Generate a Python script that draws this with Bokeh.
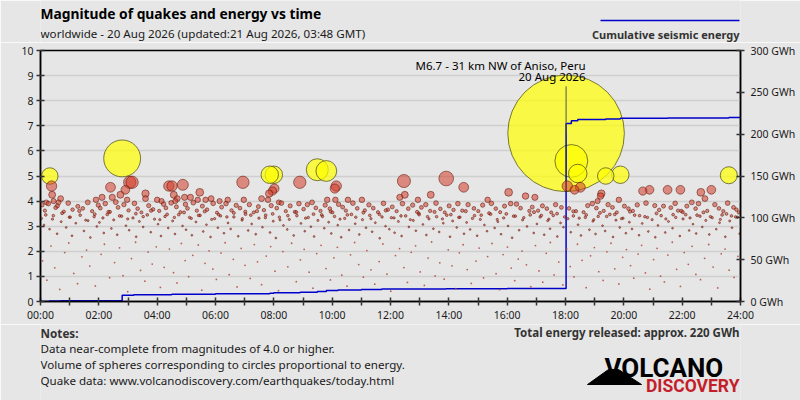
import numpy as np
from bokeh.plotting import figure
from bokeh.layouts import column
from bokeh.models import Range1d, LinearAxis, FixedTicker, Label, ColumnDataSource
from bokeh.core.properties import value
from bokeh.embed import file_html
from bokeh.resources import INLINE

# ------------------------------------------------------------------ data
# quakes of magnitude >= 5 (time in hours of 20 Aug 2026 GMT, magnitude)
big_t = [0.32, 2.80, 7.86, 8.00, 9.49, 9.80, 18.02, 18.20, 18.42, 19.38, 19.88, 23.60]
big_m = [5.0, 5.7, 5.05, 5.05, 5.25, 5.2, 6.7, 5.6, 5.1, 5.0, 5.05, 5.03]

# notable quakes ~M4-4.9
mod_t = [0.38, 0.40, 0.69, 0.20, 0.45, 0.62, 1.90, 2.11, 2.40, 2.46, 2.74, 2.91, 2.97, 3.06, 3.14,
         3.60, 3.60, 4.00, 4.15, 4.40, 4.51, 4.57, 4.62, 4.69, 4.88, 4.94, 5.14, 5.39, 5.46,
         5.66, 5.85, 6.14, 6.42, 6.94, 6.97, 7.58, 7.80, 7.84, 7.95, 8.02, 8.17, 8.89, 9.83,
         10.09, 10.11, 10.14, 10.54, 11.02, 12.32, 12.46, 12.49, 12.94, 13.38, 13.91, 14.51,
         15.33, 16.05, 16.63, 16.95, 18.06, 18.31, 18.51, 19.10, 19.20, 19.23, 19.83, 20.65,
         20.88, 21.50, 21.94, 22.33, 22.64, 22.78, 23.00]
mod_m = [4.6, 4.25, 4.1, 3.95, 4.0, 3.95, 4.05, 4.15, 4.55, 4.15, 4.25, 4.45, 4.05, 4.75, 4.75,
         4.3, 4.1, 4.05, 4.0, 4.6, 4.6, 4.25, 4.0, 4.1, 4.65, 4.15, 4.15, 4.05, 4.35,
         4.05, 4.1, 4.0, 4.05, 4.75, 4.05, 4.1, 4.05, 4.3, 4.4, 4.5, 3.95, 4.75, 4.05,
         4.5, 4.05, 4.6, 4.05, 4.05, 4.15, 4.8, 4.25, 4.05, 4.25, 4.9, 4.55,
         4.05, 4.35, 4.2, 4.15, 4.6, 4.45, 4.55, 4.0, 4.2, 4.3, 4.05, 4.4,
         4.45, 4.45, 4.45, 3.95, 4.35, 4.1, 4.45]

# band of ~M3.5-4
mid_t = [0.05, 0.15, 0.27, 0.52, 0.58, 0.80, 0.95, 1.10, 1.28, 1.45,
         1.62, 1.77, 1.98, 2.05, 2.22, 2.33, 2.58, 2.66, 2.86, 3.02,
         3.22, 3.33, 3.46, 3.71, 3.86, 4.07, 4.22, 4.30, 4.48, 4.66,
         4.80, 4.97, 5.04, 5.24, 5.36, 5.55, 5.71, 5.92, 6.05, 6.21,
         6.36, 6.55, 6.71, 6.84, 7.02, 7.16, 7.31, 7.47, 7.66, 7.91,
         8.10, 8.26, 8.41, 8.56, 8.72, 8.86, 9.02, 9.15, 9.31, 9.44,
         9.60, 9.76, 9.92, 10.01, 10.22, 10.36, 10.47, 10.71, 10.86, 11.12,
         11.26, 11.41, 11.57, 11.76, 11.91, 12.06, 12.21, 12.41, 12.61, 12.76,
         12.91, 13.06, 13.21, 13.36, 13.56, 13.71, 13.86, 14.01, 14.16, 14.31,
         14.46, 14.66, 14.86, 15.01, 15.16, 15.46, 15.61, 15.76, 15.91, 16.12,
         16.32, 16.46, 16.76, 16.86, 17.06, 17.21, 17.36, 17.51, 17.66, 17.86,
         18.12, 18.36, 18.62, 18.76, 18.92, 19.06, 19.31, 19.46, 19.61, 19.76,
         20.02, 20.16, 20.31, 20.46, 20.76, 21.06, 21.21, 21.36, 21.61, 21.76,
         21.86, 22.02, 22.16, 22.46, 22.56, 22.86, 23.12, 23.26, 23.41, 23.56,
         23.76, 23.86, 23.94]
mid_m = [3.85, 3.62, 3.90, 3.74, 3.81, 3.58, 3.92, 3.66, 3.79, 3.71,
         3.95, 3.60, 3.84, 3.72, 3.90, 3.57, 3.96, 3.75, 3.86, 3.63,
         3.91, 3.70, 3.55, 3.82, 3.67, 3.61, 3.88, 3.73, 3.93, 3.77,
         3.56, 3.87, 3.71, 3.94, 3.62, 3.80, 3.66, 3.91, 3.54, 3.76,
         3.90, 3.63, 3.83, 3.72, 3.58, 3.86, 3.55, 3.78, 3.64, 3.82,
         3.72, 3.92, 3.60, 3.81, 3.57, 3.90, 3.68, 3.86, 3.95, 3.73,
         3.61, 3.84, 3.70, 3.55, 3.87, 3.76, 3.62, 3.92, 3.71, 3.63,
         3.85, 3.72, 3.56, 3.91, 3.66, 3.77, 3.60, 3.90, 3.70, 3.84,
         3.57, 3.75, 3.86, 3.61, 3.92, 3.69, 3.55, 3.81, 3.65, 3.90,
         3.62, 3.86, 3.71, 3.60, 3.84, 3.91, 3.70, 3.56, 3.80, 3.90,
         3.88, 3.72, 3.61, 3.76, 3.62, 3.81, 3.70, 3.55, 3.86, 3.75,
         3.71, 3.60, 3.56, 3.82, 3.90, 3.72, 3.61, 3.86, 3.75, 3.55,
         3.80, 3.70, 3.61, 3.85, 3.92, 3.82, 3.65, 3.80, 3.74, 3.91,
         3.62, 3.56, 3.80, 3.70, 3.90, 3.61, 3.86, 3.71, 3.60, 3.92,
         3.75, 3.66, 3.55]

# band of ~M3.2-3.6
mid2_t = [0.18, 0.41, 0.74, 1.02, 1.33, 1.55, 1.86, 2.14, 2.38, 2.71,
          2.99, 3.27, 3.52, 3.79, 4.09, 4.34, 4.59, 4.92, 5.17, 5.42,
          5.63, 5.87, 6.11, 6.39, 6.63, 6.92, 7.21, 7.42, 7.71, 7.96,
          8.21, 8.48, 8.77, 9.09, 9.36, 9.67, 9.95, 10.27, 10.52, 10.81,
          11.07, 11.33, 11.62, 11.84, 12.12, 12.36, 12.68, 12.97, 13.27, 13.51,
          13.78, 14.07, 14.34, 14.58, 14.81, 15.11, 15.38, 15.66, 15.97, 16.22,
          16.57, 16.92, 17.17, 17.43, 17.71, 17.97, 18.27, 18.47, 18.71, 18.97,
          19.18, 19.41, 19.69, 19.92, 20.21, 20.54, 20.81, 21.12, 21.44, 21.69,
          21.97, 22.27, 22.51, 22.73, 22.97, 23.31, 23.52, 23.69, 23.89]
mid2_m = [3.45, 3.28, 3.52, 3.36, 3.61, 3.24, 3.48, 3.33, 3.57, 3.41,
          3.29, 3.50, 3.38, 3.62, 3.26, 3.47, 3.35, 3.55, 3.31, 3.43,
          3.59, 3.27, 3.46, 3.37, 3.53, 3.30, 3.44, 3.60, 3.34, 3.49,
          3.25, 3.42, 3.56, 3.32, 3.48, 3.39, 3.58, 3.28, 3.45, 3.36,
          3.54, 3.30, 3.47, 3.63, 3.33, 3.41, 3.26, 3.51, 3.38, 3.57,
          3.29, 3.46, 3.35, 3.60, 3.31, 3.44, 3.52, 3.27, 3.49, 3.40,
          3.34, 3.56, 3.43, 3.28, 3.50, 3.37, 3.59, 3.32, 3.45, 3.26,
          3.53, 3.39, 3.47, 3.30, 3.58, 3.42, 3.35, 3.51, 3.29, 3.46,
          3.61, 3.33, 3.44, 3.55, 3.38, 3.27, 3.49, 3.41, 3.36]

# band of ~M2.5-3.5
small_t = [0.03, 0.12, 0.31, 0.44, 0.57, 0.71, 0.88, 0.99, 1.08, 1.21,
           1.36, 1.49, 1.63, 1.71, 1.84, 1.93, 2.02, 2.17, 2.29, 2.43,
           2.51, 2.63, 2.78, 2.93, 3.04, 3.17, 3.28, 3.39, 3.52, 3.66,
           3.78, 3.91, 4.03, 4.13, 4.27, 4.38, 4.53, 4.61, 4.74, 4.87,
           4.99, 5.11, 5.19, 5.33, 5.47, 5.58, 5.69, 5.83, 5.97, 6.08,
           6.17, 6.29, 6.43, 6.52, 6.63, 6.78, 6.91, 7.03, 7.12, 7.24,
           7.38, 7.49, 7.61, 7.72, 7.87, 7.98, 8.07, 8.19, 8.33, 8.46,
           8.53, 8.68, 8.79, 8.93, 9.06, 9.18, 9.27, 9.38, 9.51, 9.64,
           9.73, 9.88, 9.97, 10.08, 10.19, 10.31, 10.43, 10.58, 10.66, 10.79,
           10.93, 11.04, 11.16, 11.29, 11.37, 11.48, 11.63, 11.71, 11.83, 11.96,
           12.03, 12.14, 12.27, 12.38, 12.52, 12.63, 12.78, 12.87, 12.98, 13.11,
           13.23, 13.32, 13.47, 13.58, 13.67, 13.81, 13.93, 14.04, 14.13, 14.27,
           14.38, 14.52, 14.61, 14.73, 14.88, 14.97, 15.08, 15.22, 15.31, 15.43,
           15.57, 15.68, 15.79, 15.88, 16.03, 16.17, 16.28, 16.41, 16.53, 16.68,
           16.79, 16.91, 17.02, 17.13, 17.27, 17.39, 17.47, 17.58, 17.72, 17.83,
           17.93, 18.08, 18.18, 18.27, 18.43, 18.53, 18.68, 18.82, 18.94, 19.03,
           19.12, 19.27, 19.36, 19.52, 19.63, 19.73, 19.86, 19.97, 20.07, 20.19,
           20.28, 20.37, 20.52, 20.63, 20.72, 20.84, 20.97, 21.08, 21.17, 21.28,
           21.42, 21.53, 21.67, 21.78, 21.92, 22.03, 22.12, 22.24, 22.37, 22.48,
           22.61, 22.69, 22.81, 22.93, 23.03, 23.17, 23.28, 23.37, 23.48, 23.63,
           23.71, 23.83, 23.97]
small_m = [3.31, 3.05, 2.88, 3.42, 2.70, 3.18, 2.95, 3.36, 2.62, 3.12,
           3.44, 2.81, 3.22, 2.55, 3.38, 2.99, 3.15, 2.73, 3.47, 2.91,
           3.25, 2.66, 3.40, 3.02, 2.84, 3.33, 2.58, 3.19, 2.97, 3.45,
           2.76, 3.28, 3.08, 2.61, 3.39, 2.93, 3.21, 2.69, 3.46, 3.01,
           2.86, 3.35, 2.64, 3.17, 3.43, 2.79, 3.06, 2.57, 3.30, 2.94,
           3.41, 2.72, 3.13, 2.89, 3.37, 2.60, 3.24, 3.48, 2.83, 3.09,
           2.68, 3.32, 2.96, 3.44, 2.75, 3.20, 2.53, 3.36, 3.03, 2.87,
           3.27, 2.63, 3.42, 3.11, 2.80, 3.35, 2.98, 2.59, 3.23, 3.45,
           2.92, 3.16, 2.71, 3.39, 3.04, 2.56, 3.31, 2.85, 3.47, 3.10,
           2.67, 3.26, 2.94, 3.43, 2.78, 3.14, 2.52, 3.37, 3.00, 2.88,
           3.34, 2.74, 3.19, 2.61, 3.41, 2.97, 3.23, 2.82, 3.46, 3.07,
           2.65, 3.29, 2.90, 3.38, 2.77, 3.12, 3.44, 2.58, 3.21, 2.95,
           3.36, 2.70, 3.15, 2.87, 3.42, 2.62, 3.27, 3.05, 2.80, 3.48,
           2.93, 3.18, 2.68, 3.33, 3.01, 2.54, 3.40, 2.84, 3.25, 2.99,
           3.45, 2.73, 3.09, 3.37, 2.66, 3.22, 2.90, 3.43, 2.59, 3.13,
           2.96, 3.30, 2.76, 3.41, 3.06, 2.63, 3.35, 2.86, 3.20, 2.69,
           3.39, 3.02, 2.81, 3.47, 2.57, 3.24, 2.95, 3.32, 2.72, 3.16,
           2.89, 3.44, 2.64, 3.11, 3.38, 2.79, 3.26, 2.56, 3.03, 3.42,
           2.75, 3.19, 2.92, 3.35, 2.61, 3.29, 3.46, 2.83, 3.08, 2.71,
           3.40, 2.97, 3.23, 2.67, 3.34, 2.88, 3.14, 3.45, 2.58, 3.21,
           2.94, 3.37, 2.70]

# faint small quakes below ~M2.4
tiny_t = [0.07, 0.22, 0.36, 0.49, 0.66, 0.83, 0.97, 1.14, 1.27, 1.42,
          1.58, 1.69, 1.88, 2.08, 2.19, 2.37, 2.54, 2.71, 2.83, 2.99,
          3.12, 3.26, 3.43, 3.58, 3.69, 3.83, 3.97, 4.11, 4.24, 4.42,
          4.56, 4.68, 4.83, 4.96, 5.08, 5.22, 5.41, 5.53, 5.64, 5.78,
          5.91, 6.03, 6.19, 6.33, 6.47, 6.61, 6.74, 6.88, 7.01, 7.19,
          7.33, 7.44, 7.58, 7.74, 7.89, 8.04, 8.16, 8.31, 8.48, 8.61,
          8.77, 8.91, 9.04, 9.21, 9.34, 9.47, 9.62, 9.79, 9.94, 10.06,
          10.18, 10.33, 10.51, 10.63, 10.77, 10.91, 11.07, 11.19, 11.33, 11.46,
          11.61, 11.74, 11.88, 12.01, 12.17, 12.31, 12.46, 12.58, 12.71, 12.86,
          13.02, 13.16, 13.29, 13.41, 13.53, 13.69, 13.84, 13.98, 14.11, 14.24,
          14.36, 14.49, 14.63, 14.77, 14.93, 15.04, 15.19, 15.33, 15.48, 15.62,
          15.74, 15.86, 16.01, 16.14, 16.26, 16.38, 16.51, 16.66, 16.81, 16.97,
          17.09, 17.22, 17.34, 17.48, 17.61, 17.77, 17.91, 18.04, 18.16, 18.29,
          18.41, 18.57, 18.71, 18.86, 18.99, 19.14, 19.29, 19.42, 19.56, 19.69,
          19.83, 19.96, 20.09, 20.23, 20.34, 20.49, 20.61, 20.74, 20.89, 21.02,
          21.14, 21.26, 21.39, 21.51, 21.66, 21.81, 21.94, 22.07, 22.21, 22.34,
          22.47, 22.63, 22.77, 22.91, 23.06, 23.22, 23.34, 23.47, 23.61, 23.78,
          23.91]
tiny_m = [1.62, 0.85, 2.21, 1.34, 0.48, 1.95, 2.33, 1.12, 0.71, 1.78,
          2.05, 1.41, 0.62, 1.88, 2.28, 0.95, 1.55, 2.14, 1.03, 0.39,
          1.71, 2.36, 1.24, 0.81, 1.97, 1.49, 2.18, 0.56, 1.36, 2.09,
          1.15, 0.74, 2.31, 1.63, 0.99, 1.84, 2.25, 0.45, 1.52, 2.02,
          1.29, 0.88, 1.93, 2.34, 1.07, 1.68, 0.58, 2.12, 1.44, 0.92,
          2.27, 1.58, 0.67, 1.81, 2.19, 1.21, 0.43, 1.99, 1.38, 2.32,
          0.79, 1.66, 2.08, 1.17, 0.53, 1.91, 2.24, 1.31, 0.86, 1.74,
          2.16, 1.05, 0.61, 1.86, 2.35, 1.47, 0.97, 2.03, 1.26, 0.69,
          1.59, 2.29, 1.09, 0.41, 1.83, 2.11, 1.35, 0.76, 1.96, 2.22,
          1.18, 0.64, 1.73, 2.37, 1.02, 1.54, 0.89, 2.06, 1.42, 0.51,
          1.94, 2.26, 1.27, 0.72, 1.61, 2.13, 0.94, 1.79, 2.31, 1.11,
          0.47, 1.87, 2.17, 1.33, 0.83, 1.69, 2.01, 1.46, 0.59, 2.23,
          1.22, 0.77, 1.92, 2.35, 1.06, 1.57, 0.66, 2.10, 1.39, 0.98,
          2.28, 1.64, 0.55, 1.82, 2.15, 1.19, 0.84, 1.98, 2.32, 1.30,
          0.70, 1.76, 2.07, 1.43, 0.93, 1.89, 2.24, 1.14, 0.49, 1.67,
          2.12, 1.01, 0.78, 1.85, 2.36, 1.28, 0.60, 1.95, 1.48, 2.20,
          1.08, 0.87, 1.72, 2.27, 1.37, 0.54, 1.90, 2.09, 1.25, 0.96,
          1.80]

# cumulative seismic energy (hours, GWh)
energy_t = [0.0, 0.3, 0.7, 2.8, 3.2, 4.5, 6.0, 7.86, 8.0, 8.9, 9.49, 9.8, 10.2, 11.0,
            11.7, 13.9, 16.0, 18.02, 18.2, 18.42, 19.38, 19.88, 21.5, 23.6, 24.0]
energy_gwh = [0.0, 0.5, 1.0, 7.5, 8.0, 8.6, 9.2, 9.8, 10.6, 11.0, 12.0, 13.0, 13.6, 14.3,
              14.9, 15.3, 15.6, 212.7, 216.0, 217.4, 218.2, 218.9, 219.3, 220.0, 220.2]

hour_ticks = [0, 2, 4, 6, 8, 10, 12, 14, 16, 18, 20, 22, 24]
hour_labels = ["00:00", "02:00", "04:00", "06:00", "08:00", "10:00", "12:00",
               "14:00", "16:00", "18:00", "20:00", "22:00", "24:00"]
hour_minor = [1, 3, 5, 7, 9, 11, 13, 15, 17, 19, 21, 23]
mag_ticks = [0, 1, 2, 3, 4, 5, 6, 7, 8, 9, 10]
energy_ticks = [0, 50, 100, 150, 200, 250, 300]
energy_labels = ["0 GWh", "50 GWh", "100 GWh", "150 GWh", "200 GWh", "250 GWh", "300 GWh"]

title_text = "Magnitude of quakes and energy vs time"
subtitle_text = "worldwide - 20 Aug 2026 (updated:21 Aug 2026, 03:48 GMT)"
legend_text = "Cumulative seismic energy"
annot_lines = ["M6.7 - 31 km NW of Aniso, Peru", "20 Aug 2026"]
notes_title = "Notes:"
notes_lines = ["Data near-complete from magnitudes of 4.0 or higher.",
               "Volume of spheres corresponding to circles proportional to energy.",
               "Quake data: www.volcanodiscovery.com/earthquakes/today.html"]
total_text = "Total energy released: approx. 220 GWh"
logo_top = "VOLCANO"
logo_bottom = "DISCOVERY"

# ------------------------------------------------------------------ style
BG = "#e6e6e6"
FONT = "Noto Sans"
TXT = "#1a1a1a"
R_MAIN = 58.3          # screen radius (px) of the M6.7 circle
WIDTH = 800
HEAD_H = 42            # header strip: page y 0..42
FL, FR, FT, FB = 40, 740, 50, 302   # plot frame, page pixels
MAIN_BOTTOM = 22
MAIN_H = (FT - HEAD_H) + (FB - FT) + MAIN_BOTTOM
FOOT_TOP = HEAD_H + MAIN_H
FOOT_H = 400 - FOOT_TOP


def px_x(X):
    return (X - FL) * 24.0 / (FR - FL)


def px_y(Y):
    return (FB - Y) * 10.0 / (FB - FT)


def diam(m):
    return np.maximum(2 * R_MAIN * 10 ** (0.5 * (np.asarray(m, dtype=float) - 6.7)), 1.8)


def strip(h, y_top, y_bot):
    # frames of the stacked figures are aligned with the main frame (page x 40..740)
    f = figure(width=WIDTH, height=h, output_backend="svg", toolbar_location=None,
               x_range=Range1d(FL, FR), y_range=Range1d(y_bot, y_top),
               x_axis_type=None, y_axis_type=None, min_border=0,
               min_border_left=FL, min_border_right=WIDTH - FR,
               background_fill_color=BG, border_fill_color=BG)
    f.outline_line_color = None
    f.grid.visible = False
    return f


def txt(f, s, X, Y, size="11.5px", bold=False, align="left", color=TXT, font=FONT,
        baseline="middle"):
    f.text(x=[X], y=[Y], text=[s], text_align=align, text_baseline=baseline,
           text_font=value(font), text_font_size=size,
           text_font_style="bold" if bold else "normal", text_color=color)


# ---------------- header
head = strip(HEAD_H, 0, HEAD_H)
txt(head, title_text, 40, 13, size="13.8px", bold=True, color="black")
txt(head, subtitle_text, 40, 33, size="11.6px")
txt(head, legend_text, 739, 34, size="11px", bold=True, align="right", color="#333333")
head.segment(x0=[600], y0=[20], x1=[739], y1=[20], line_color="#0000cc", line_width=1.5)

# ---------------- main plot
p = figure(width=WIDTH, height=MAIN_H, output_backend="svg", toolbar_location=None,
           x_range=Range1d(0, 24), y_range=Range1d(0, 10),
           min_border_left=FL, min_border_right=WIDTH - FR, min_border_top=FT - HEAD_H,
           min_border_bottom=MAIN_BOTTOM,
           background_fill_color=BG, border_fill_color=BG)
p.outline_line_color = "black"
p.outline_line_width = 1.5
p.xgrid.visible = False
p.ygrid.grid_line_color = "#cfcfcf"
p.ygrid.grid_line_width = 1.5

xa = p.xaxis[0]
xa.ticker = FixedTicker(ticks=hour_ticks, minor_ticks=hour_minor)
xa.major_label_overrides = dict(zip(hour_ticks, hour_labels))
ya = p.yaxis[0]
ya.ticker = FixedTicker(ticks=mag_ticks, minor_ticks=[])
p.extra_y_ranges = {"energy": Range1d(0, 300)}
ra = LinearAxis(y_range_name="energy",
                ticker=FixedTicker(ticks=energy_ticks, minor_ticks=[]))
ra.major_label_overrides = dict(zip(energy_ticks, energy_labels))
p.add_layout(ra, "right")

for ax in (xa, ya, ra):
    ax.axis_line_color = "black"
    ax.axis_line_width = 1.5
    ax.major_tick_in = 4
    ax.major_tick_out = 4
    ax.minor_tick_in = 4
    ax.minor_tick_out = 4
    ax.major_tick_line_color = "#333333"
    ax.major_tick_line_width = 1.5
    ax.minor_tick_line_color = "#333333"
    ax.minor_tick_line_width = 1.5
    ax.major_label_text_font = FONT
    ax.major_label_text_font_size = "10.5px"
    ax.major_label_text_color = TXT
    ax.major_label_standoff = 3
xa.major_label_standoff = 2
ra.major_label_standoff = 6


def src(ts, ms):
    order = np.argsort(-np.asarray(ms))
    t = np.asarray(ts)[order]
    m = np.asarray(ms)[order]
    return ColumnDataSource(dict(t=t, m=m, size=diam(m)))


p.scatter("t", "m", size="size", source=src(big_t, big_m), marker="circle",
          fill_color="#ffff00", fill_alpha=0.7, line_color="#5a5a20", line_alpha=0.8,
          line_width=1)

p.step(energy_t, energy_gwh, mode="after", y_range_name="energy",
       line_color="#0000cc", line_width=1.5)

red_t = mod_t + mid_t + mid2_t + small_t
red_m = mod_m + mid_m + mid2_m + small_m
p.scatter("t", "m", size="size", source=src(red_t, red_m), marker="circle",
          fill_color="#d23c28", fill_alpha=0.55, line_color="#5c1408", line_alpha=0.55,
          line_width=1)
p.scatter("t", "m", size="size", source=src(tiny_t, tiny_m), marker="circle",
          fill_color="#b3473a", fill_alpha=0.85, line_alpha=0)

imax = int(np.argmax(big_m))
p.segment(x0=[big_t[imax]], y0=[px_y(86)], x1=[big_t[imax]], y1=[big_m[imax]],
          line_color="#555555", line_width=1)
for s, Y in zip(annot_lines, [65, 76]):
    p.add_layout(Label(x=px_x(585), y=px_y(Y), text=s, text_align="right",
                       text_baseline="middle", text_font=FONT, text_font_size="11.5px",
                       text_color="black"))

# ---------------- footer
foot = strip(FOOT_H, FOOT_TOP, 400)
txt(foot, notes_title, 40, 332, size="11.7px", bold=True, color="#333333")
for s, Y in zip(notes_lines, [348, 364, 380]):
    txt(foot, s, 40, Y, size="11.6px")
txt(foot, total_text, 739, 332, size="11.5px", bold=True, align="right", color="#333333")
foot.patch(x=[587, 641, 618, 608], y=[384, 384, 369, 369], color="black")
txt(foot, logo_top, 604, 367.5, size="26px", bold=True, color="black", font="Roboto",
    baseline="alphabetic")
txt(foot, logo_bottom, 739, 385, size="17.5px", bold=True, color="#c41e2a", font="Roboto",
    baseline="alphabetic", align="right")

layout = column(head, p, foot, spacing=0)
open("out.html", "w").write(file_html(layout, INLINE))
